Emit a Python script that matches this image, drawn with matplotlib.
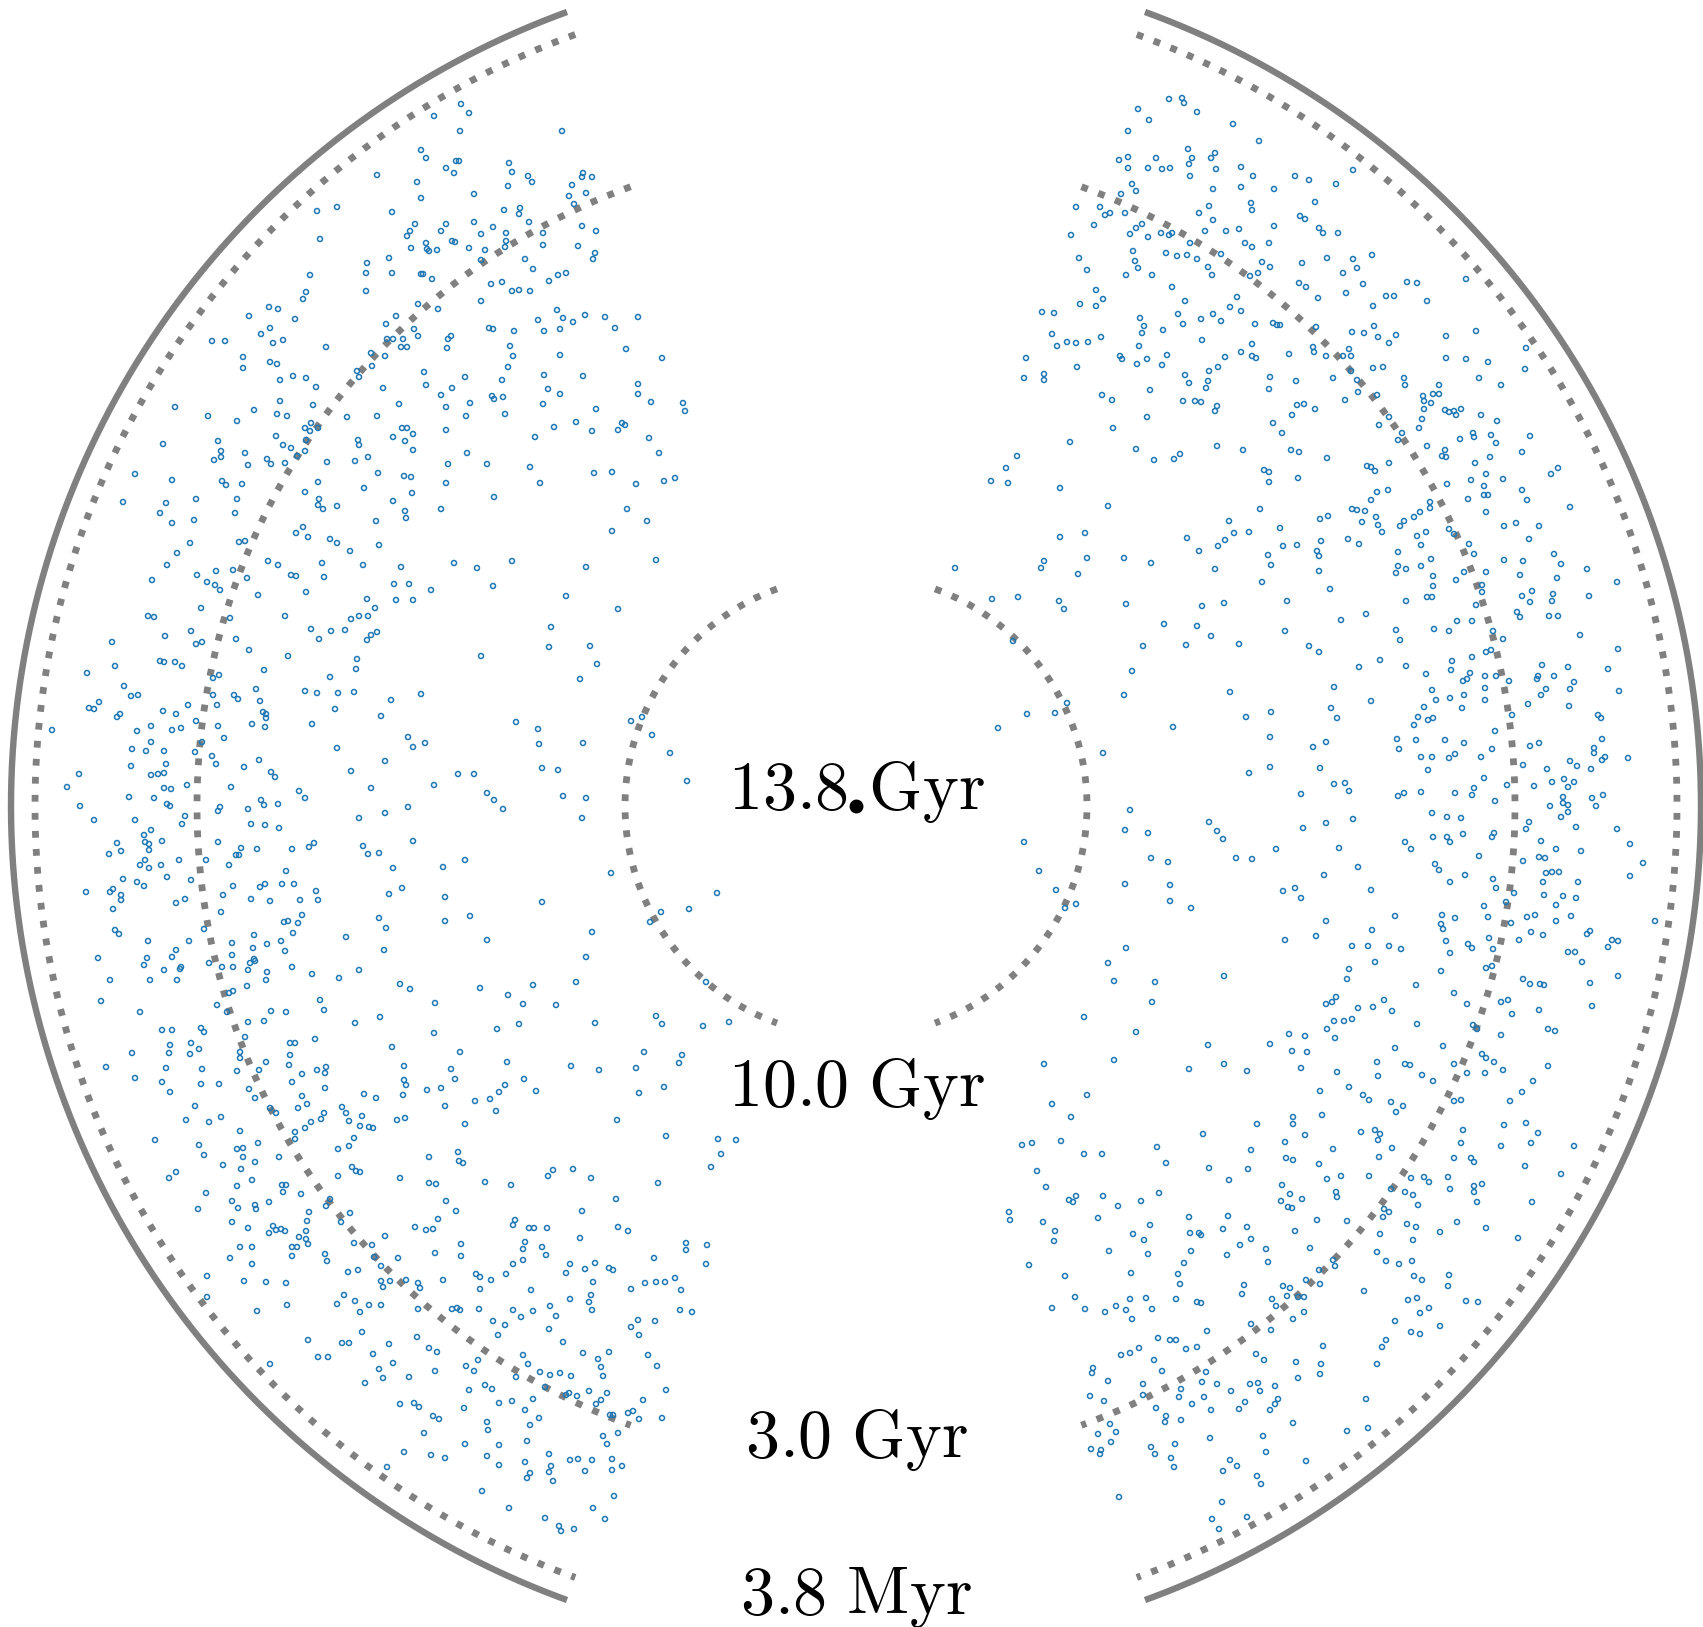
import numpy as np
import matplotlib.pyplot as plt

plt.rcParams['mathtext.fontset'] = 'cm'

# comoving positions of the galaxies, observer at the origin (same units as the radii)
LEFT_GALAXIES = [
    (-479, 631), (-539, 595), (-519, 599), (-536, 567), (-489, 543), (-467, 548), (-490, 533), (-546, 531),
    (-550, 514), (-553, 507), (-490, 515), (-587, 499), (-578, 497), (-607, 490), (-561, 487), (-470, 482),
    (-586, 478), (-595, 472), (-583, 463), (-573, 466), (-469, 467), (-644, 465), (-631, 465), (-530, 459),
    (-485, 453), (-471, 450), (-484, 440), (-613, 449), (-613, 438), (-586, 444), (-579, 442), (-499, 435),
    (-497, 429), (-576, 426), (-563, 430), (-550, 428), (-540, 419), (-473, 418), (-576, 405), (-543, 401),
    (-602, 396), (-579, 392), (-569, 390), (-509, 389), (-479, 390), (-681, 399), (-648, 390), (-619, 385),
    (-545, 383), (-551, 378), (-538, 378), (-546, 375), (-580, 370), (-638, 365), (-635, 355), (-635, 349),
    (-642, 346), (-611, 353), (-608, 341), (-573, 361), (-565, 358), (-550, 366), (-551, 355), (-559, 350),
    (-589, 347), (-585, 342), (-571, 343), (-529, 344), (-498, 366), (-497, 361), (-501, 345), (-488, 349),
    (-693, 362), (-721, 332), (-684, 326), (-634, 325), (-630, 321), (-614, 322), (-538, 324), (-478, 333),
    (-733, 304), (-690, 303), (-696, 293), (-684, 283), (-660, 307), (-662, 286), (-619, 307), (-621, 293),
    (-551, 314), (-537, 307), (-538, 301), (-533, 297), (-519, 300), (-492, 318), (-480, 285), (-560, 273),
    (-553, 279), (-548, 269), (-526, 267), (-519, 263), (-506, 255), (-477, 261), (-666, 263), (-679, 253),
    (-617, 264), (-611, 265), (-689, 241), (-588, 245), (-578, 241), (-534, 243), (-493, 241),
    (-395, 702), (-387, 693), (-422, 690), (-396, 675), (-294, 675), (-435, 656), (-430, 648), (-410, 638),
    (-400, 645), (-397, 645), (-402, 633), (-347, 643), (-344, 634), (-348, 620), (-328, 630), (-324, 624),
    (-273, 633), (-274, 629), (-264, 629), (-284, 621), (-287, 610), (-270, 613), (-282, 602), (-439, 624),
    (-435, 608), (-382, 612), (-352, 596), (-336, 598), (-337, 592), (-327, 584), (-464, 594), (-441, 582),
    (-446, 575), (-449, 570), (-415, 575), (-410, 582), (-382, 584), (-375, 572), (-363, 579), (-350, 573),
    (-350, 565), (-351, 559), (-313, 573), (-313, 561), (-274, 580), (-260, 575), (-278, 560), (-261, 553),
    (-263, 547), (-430, 563), (-429, 557), (-427, 555), (-419, 556), (-445, 558), (-404, 565), (-401, 564),
    (-387, 558), (-371, 556), (-375, 546), (-331, 547), (-323, 537), (-307, 525), (-298, 531), (-290, 533),
    (-435, 532), (-433, 532), (-424, 527), (-365, 522), (-354, 524), (-344, 515), (-337, 516), (-326, 515),
    (-375, 505), (-438, 502), (-418, 497), (-460, 490), (-442, 477), (-438, 470), (-453, 467), (-463, 467),
    (-455, 459), (-449, 459), (-408, 467), (-405, 470), (-409, 458), (-367, 478), (-363, 477), (-342, 475),
    (-299, 496), (-293, 488), (-283, 484), (-271, 491), (-251, 489), (-218, 489), (-241, 478), (-318, 486),
    (-312, 475), (-296, 477), (-346, 460), (-343, 450), (-296, 451), (-230, 457), (-194, 448), (-348, 439),
    (-354, 426), (-312, 431), (-308, 417), (-296, 412), (-273, 430), (-218, 422), (-218, 412), (-205, 404),
    (-173, 403), (-171, 395), (-432, 434), (-430, 421), (-415, 411), (-404, 418), (-391, 429), (-457, 402),
    (-386, 403), (-410, 399), (-390, 390), (-364, 410), (-362, 407), (-353, 409), (-351, 392), (-313, 402),
    (-260, 397), (-280, 384), (-302, 379), (-264, 375), (-238, 376), (-234, 383), (-231, 381), (-207, 368),
    (-197, 353), (-321, 369), (-454, 378), (-449, 378), (-443, 372), (-463, 369), (-451, 365), (-443, 356),
    (-410, 376), (-389, 353), (-408, 342), (-369, 342), (-326, 339), (-316, 323), (-262, 333), (-244, 334),
    (-220, 322), (-192, 325), (-181, 328), (-452, 330), (-445, 329), (-410, 323), (-444, 313), (-463, 305),
    (-451, 295), (-450, 288), (-415, 297), (-362, 309), (-229, 297), (-209, 285), (-244, 275), (-455, 239),
    (-402, 243), (-379, 238), (-344, 245), (-270, 239), (-200, 246), (-464, 533),
    (-659, 231), (-649, 224), (-641, 221), (-636, 216), (-640, 235), (-623, 236), (-609, 228), (-565, 231),
    (-560, 230), (-532, 229), (-704, 226), (-550, 214), (-598, 211), (-489, 207), (-481, 198), (-655, 198),
    (-708, 190), (-702, 189), (-626, 188), (-571, 190), (-505, 187), (-497, 190), (-488, 190), (-545, 177),
    (-525, 175), (-511, 176), (-537, 167), (-485, 171), (-479, 174), (-489, 166), (-665, 175), (-691, 170),
    (-744, 164), (-660, 162), (-654, 164), (-620, 167), (-607, 156), (-568, 150), (-499, 147), (-500, 137),
    (-526, 129), (-592, 136), (-696, 145), (-692, 144), (-681, 144), (-674, 140), (-741, 140), (-769, 133),
    (-732, 120), (-725, 110), (-718, 111), (-637, 131), (-643, 128), (-600, 117), (-551, 115), (-539, 113),
    (-518, 113), (-502, 114), (-622, 111), (-618, 107), (-596, 105), (-643, 111), (-639, 101), (-668, 101),
    (-767, 98), (-762, 97), (-757, 104), (-739, 89), (-736, 92), (-693, 95), (-680, 92), (-521, 97),
    (-475, 90), (-593, 94), (-590, 92), (-590, 88), (-591, 79), (-604, 82), (-544, 82), (-660, 85),
    (-638, 80), (-684, 76), (-675, 78), (-705, 80), (-719, 75), (-804, 76), (-632, 68), (-654, 64),
    (-705, 64), (-724, 57), (-710, 55), (-692, 55), (-661, 54), (-644, 50), (-640, 42), (-519, 58),
    (-597, 46), (-612, 39), (-585, 34), (-581, 29), (-505, 35), (-471, 45), (-777, 32), (-725, 40),
    (-705, 31), (-698, 32), (-692, 33), (-690, 42), (-789, 19), (-669, 21), (-692, 18), (-685, 17),
    (-625, 19), (-485, 18), (-557, 15), (-551, 8), (-727, 9), (-702, 8), (-689, 2), (-686, 0),
    (-776, 0), (-595, 6), (-592, 1), (-578, 2), (-636, -1), (-638, -5), (-608, -3), (-762, -14),
    (-721, -14), (-671, -10), (-674, -18), (-605, -18), (-591, -19), (-577, -22), (-497, -12), (-471, -7),
    (-705, -24), (-712, -29), (-711, -36), (-707, -38), (-707, -44), (-694, -35), (-739, -37), (-747, -48),
    (-735, -45), (-638, -36), (-615, -42), (-620, -49), (-617, -49), (-599, -43), (-564, -43), (-547, -41),
    (-542, -37), (-493, -40), (-488, -48), (-477, -47), (-716, -59), (-711, -54), (-707, -62), (-695, -59),
    (-677, -54), (-650, -54), (-627, -59), (-570, -65), (-733, -73), (-719, -76), (-712, -80), (-689, -71),
    (-665, -74), (-770, -86), (-746, -86), (-743, -83), (-735, -89), (-735, -94), (-743, -103), (-680, -97),
    (-671, -93), (-633, -89), (-623, -80), (-605, -93), (-596, -81), (-591, -78), (-586, -95), (-574, -78),
    (-562, -78), (-556, -94), (-540, -85), (-538, -94), (-467, -88), (-635, -106), (-572, -116), (-568, -115),
    (-558, -117), (-554, -109), (-563, -127), (-602, -129), (-477, -112), (-470, -122), (-741, -124), (-737, -128),
    (-652, -123), (-708, -135), (-667, -135), (-624, -137), (-603, -142), (-589, -138), (-575, -135), (-571, -145),
    (-510, -131), (-472, -144), (-758, -152), (-709, -152), (-712, -159), (-680, -144), (-684, -151), (-675, -161),
    (-676, -163), (-647, -157), (-634, -161), (-624, -149), (-623, -161), (-606, -157), (-602, -153), (-601, -155),
    (-608, -164), (-589, -166), (-590, -174), (-564, -161), (-544, -168), (-517, -172), (-497, -164), (-746, -174),
    (-706, -174), (-692, -164), (-679, -174), (-609, -180), (-627, -187), (-623, -185), (-755, -195), (-716, -206),
    (-639, -199), (-629, -206), (-608, -216), (-592, -215), (-585, -205), (-570, -206), (-536, -194), (-532, -204),
    (-501, -217), (-476, -211), (-694, -224), (-684, -224), (-655, -222), (-652, -226), (-686, -239), (-665, -237),
    (-611, -231), (-566, -237), (-561, -237), (-541, -233), (-657, -243),
    (-462, 222), (-447, 222), (-460, 206), (-443, 206), (-425, 216), (-363, 220), (-290, 210), (-238, 197),
    (-305, 179), (-307, 159), (-266, 160), (-259, 142), (-276, 127), (-375, 150), (-435, 112), (-465, 106),
    (-340, 84), (-318, 77), (-317, 62), (-273, 63), (-225, 85), (-214, 89), (-204, 71), (-186, 53),
    (-169, 25), (-448, 69), (-443, 59), (-431, 63), (-398, 32), (-382, 32), (-422, 21), (-369, 13),
    (-362, 6), (-353, -3), (-314, 38), (-298, 36), (-293, 10), (-270, 8), (-274, -12), (-448, -1),
    (-443, -35), (-463, -62), (-413, -61), (-391, -54), (-454, -82), (-411, -91), (-411, -115), (-386, -110),
    (-369, -134), (-314, -96), (-245, -67), (-264, -126), (-270, -151), (-280, -176), (-139, -87), (-167, -103),
    (-195, -106), (-206, -116), (-456, -178), (-446, -183), (-421, -197), (-376, -182), (-348, -189), (-333, -198),
    (-323, -179), (-300, -199), (-337, -218), (-359, -223), (-422, -227), (-261, -217), (-200, -210), (-194, -218),
    (-153, -220), (-127, -216), (-150, -176), (-464, -241),
    (-724, -247), (-687, -247), (-666, -248), (-616, -246), (-616, -252), (-566, -249), (-567, -259), (-750, -261),
    (-690, -262), (-654, -263), (-619, -265), (-590, -256), (-597, -264), (-721, -272), (-694, -276), (-686, -286),
    (-655, -278), (-637, -278), (-607, -283), (-601, -292), (-564, -276), (-554, -268), (-539, -264), (-531, -267),
    (-530, -261), (-531, -282), (-554, -290), (-549, -298), (-558, -302), (-586, -302), (-580, -307), (-661, -300),
    (-670, -314), (-647, -316), (-635, -311), (-532, -307), (-535, -313), (-545, -316), (-551, -322), (-561, -326),
    (-561, -333), (-514, -301), (-510, -307), (-507, -315), (-494, -310), (-492, -288), (-480, -292), (-496, -320),
    (-487, -321), (-483, -322), (-502, -332), (-507, -340), (-518, -343), (-701, -334), (-657, -339), (-652, -349),
    (-616, -325), (-619, -343), (-613, -342), (-598, -337), (-613, -351), (-601, -356), (-577, -351), (-633, -359),
    (-615, -363), (-604, -374), (-619, -380), (-680, -366), (-687, -372), (-574, -379), (-570, -379), (-573, -386),
    (-555, -388), (-518, -370), (-504, -361), (-500, -365), (-496, -366), (-650, -387), (-658, -403), (-624, -395),
    (-618, -402), (-601, -399), (-600, -403), (-587, -396), (-526, -393), (-530, -400), (-506, -407), (-515, -416),
    (-547, -406), (-549, -415), (-624, -416), (-608, -422), (-583, -420), (-587, -427), (-580, -424), (-575, -423),
    (-571, -425), (-550, -425), (-557, -431), (-550, -433), (-548, -438), (-471, -430), (-502, -437), (-484, -439),
    (-616, -441), (-604, -441), (-564, -441), (-559, -441), (-564, -450), (-626, -452), (-604, -458), (-531, -448),
    (-529, -455), (-482, -451), (-475, -460), (-508, -466), (-498, -464), (-475, -475), (-466, -475), (-473, -481),
    (-649, -470), (-612, -475), (-590, -476), (-570, -477), (-649, -491), (-599, -505), (-569, -499), (-512, -489),
    (-519, -498), (-501, -495), (-496, -506), (-487, -499), (-475, -499), (-494, -526), (-548, -534), (-514, -537),
    (-507, -537), (-467, -538), (-538, -551), (-528, -551), (-483, -548), (-586, -558), (-477, -563), (-473, -572),
    (-491, -577), (-469, -661),
    (-396, -246), (-212, -246), (-174, -249), (-177, -257), (-452, -260), (-405, -263), (-401, -273), (-349, -256),
    (-285, -260), (-257, -264), (-220, -262), (-217, -287), (-192, -281), (-452, -274), (-450, -279), (-453, -289),
    (-429, -284), (-415, -282), (-411, -300), (-381, -295), (-366, -293), (-360, -305), (-357, -286), (-351, -279),
    (-332, -273), (-320, -285), (-391, -318), (-459, -314), (-451, -312), (-239, -314), (-190, -330), (-138, -333),
    (-120, -334), (-135, -348), (-145, -361), (-427, -351), (-398, -346), (-397, -355), (-393, -357), (-456, -372),
    (-427, -377), (-420, -378), (-371, -376), (-345, -379), (-308, -370), (-303, -364), (-283, -363), (-265, -372),
    (-198, -377), (-240, -393), (-410, -395), (-400, -405), (-418, -413), (-274, -405), (-441, -421), (-430, -424),
    (-423, -423), (-343, -419), (-341, -414), (-327, -422), (-322, -422), (-309, -422), (-276, -432), (-238, -421),
    (-228, -425), (-395, -438), (-421, -447), (-395, -450), (-331, -436), (-333, -443), (-333, -454), (-343, -458),
    (-314, -441), (-310, -449), (-458, -452), (-170, -437), (-170, -444), (-149, -439), (-150, -458), (-202, -452),
    (-286, -458), (-290, -467), (-271, -463), (-261, -457), (-247, -462), (-243, -464), (-263, -476), (-380, -468),
    (-376, -471), (-365, -474), (-350, -468), (-450, -474), (-438, -477), (-436, -482), (-413, -474), (-376, -483),
    (-325, -484), (-225, -483), (-211, -477), (-200, -476), (-191, -476), (-181, -472), (-175, -484), (-438, -503),
    (-404, -503), (-399, -502), (-396, -504), (-377, -503), (-343, -504), (-335, -511), (-323, -505), (-306, -500),
    (-300, -510), (-286, -493), (-265, -489), (-267, -496), (-264, -504), (-218, -514), (-225, -521), (-217, -529),
    (-201, -515), (-176, -504), (-164, -506), (-363, -515), (-351, -519), (-358, -529), (-307, -523), (-293, -536),
    (-439, -531), (-427, -542), (-419, -546), (-463, -557), (-378, -554), (-390, -560), (-382, -565), (-333, -549),
    (-328, -558), (-316, -566), (-306, -569), (-296, -567), (-285, -570), (-273, -547), (-247, -546), (-258, -553),
    (-255, -561), (-253, -570), (-208, -549), (-199, -560), (-421, -565), (-447, -571), (-387, -584), (-371, -579),
    (-364, -583), (-340, -571), (-311, -581), (-290, -589), (-287, -587), (-279, -590), (-267, -585), (-249, -587),
    (-255, -594), (-260, -598), (-213, -594), (-190, -584), (-323, -593), (-344, -595), (-357, -597), (-331, -604),
    (-317, -612), (-326, -619), (-456, -598), (-442, -597), (-437, -601), (-392, -602), (-423, -610), (-417, -613),
    (-369, -616), (-368, -624), (-432, -627), (-246, -609), (-243, -609), (-228, -607), (-223, -605), (-217, -613),
    (-194, -612), (-238, -627), (-253, -630), (-249, -638), (-391, -638), (-357, -639), (-329, -635), (-452, -646),
    (-425, -649), (-411, -652), (-369, -650), (-357, -659), (-331, -656), (-307, -648), (-305, -660), (-307, -666),
    (-326, -667), (-329, -672), (-303, -675), (-286, -654), (-278, -653), (-264, -654), (-271, -665), (-244, -653),
    (-244, -664), (-234, -660), (-374, -685), (-347, -702), (-311, -712), (-297, -720), (-295, -725), (-282, -723),
    (-263, -702), (-251, -713), (-242, -690),
]

RIGHT_GALAXIES = [
    (313, 707), (326, 708), (328, 703), (341, 694), (282, 697), (293, 686), (377, 682), (272, 675),
    (403, 665), (332, 657), (359, 653), (355, 648), (336, 648), (333, 642), (334, 630), (360, 637),
    (263, 646), (272, 649), (272, 638), (300, 648), (292, 638), (306, 637), (314, 638), (385, 639),
    (397, 630), (439, 630), (276, 622), (280, 615), (265, 612), (385, 619), (357, 617), (418, 617),
    (395, 603), (396, 596), (353, 600), (343, 593), (357, 586), (220, 599), (244, 599), (249, 591),
    (254, 593), (269, 593), (238, 581), (280, 578), (286, 582), (274, 572), (292, 569), (305, 573),
    (313, 571), (316, 573), (349, 575), (370, 575), (383, 577), (418, 580), (444, 590), (215, 571),
    (389, 563), (396, 559), (413, 563), (334, 563), (277, 555), (279, 545), (282, 538), (270, 531),
    (296, 531), (310, 553), (321, 550), (331, 551), (341, 547), (365, 552), (352, 539), (356, 531),
    (406, 544), (414, 539), (394, 530), (402, 533), (443, 523), (223, 548), (231, 536), (316, 519),
    (329, 505), (240, 516), (247, 507), (240, 500), (224, 502), (186, 494), (198, 493), (381, 509),
    (374, 499), (385, 495), (322, 492), (357, 492), (365, 485), (345, 487), (327, 482), (399, 482),
    (417, 483), (421, 481), (424, 481), (284, 488), (288, 480), (286, 473), (307, 476), (196, 472),
    (201, 460), (211, 464), (220, 463), (232, 464), (245, 469), (283, 460), (346, 466), (396, 462),
    (264, 450), (266, 447), (281, 442), (291, 447), (306, 441), (311, 451), (369, 449), (385, 454),
    (396, 450), (400, 448), (433, 452), (170, 448), (221, 439), (168, 428), (188, 432), (188, 426),
    (329, 431), (333, 423), (353, 435), (362, 439), (352, 425), (350, 418), (414, 429), (413, 417),
    (440, 425), (246, 411), (256, 406), (294, 416), (327, 405), (339, 405), (345, 404), (361, 400),
    (359, 395), (441, 401), (417, 383), (426, 373), (436, 391), (291, 389), (257, 378), (214, 364),
    (280, 357), (298, 346), (318, 347), (324, 352), (361, 360), (387, 356), (435, 356), (443, 354),
    (161, 350), (150, 338), (135, 325), (152, 323), (204, 318), (408, 336), (413, 334), (413, 324),
    (442, 328), (252, 300), (404, 297), (373, 285), (378, 273), (393, 274), (424, 278), (369, 266),
    (362, 260), (427, 260), (441, 261), (331, 268), (343, 255), (204, 269), (229, 273), (412, 251),
    (415, 241), (188, 245), (185, 238), (231, 248), (268, 248), (295, 243), (359, 237), (99, 238),
    (497, 636), (453, 626), (480, 622), (459, 604), (449, 587), (463, 578), (467, 573), (482, 573),
    (446, 543), (471, 548), (497, 547), (516, 551), (501, 538), (487, 533), (507, 522), (450, 519),
    (462, 508), (490, 513), (517, 500), (530, 510), (538, 510), (551, 524), (561, 523), (571, 505),
    (610, 527), (460, 479), (496, 474), (508, 473), (518, 480), (522, 469), (533, 463), (540, 471),
    (457, 459), (458, 454), (470, 450), (487, 450), (493, 457), (495, 450), (590, 470), (620, 475),
    (670, 458), (669, 437), (477, 428), (495, 435), (501, 426), (502, 414), (517, 438), (527, 439),
    (548, 428), (549, 421), (521, 411), (489, 406), (448, 402), (459, 397), (590, 448), (610, 447),
    (632, 444), (623, 428), (645, 421), (583, 421), (577, 412), (583, 412), (567, 410), (568, 405),
    (575, 403), (568, 397), (566, 387), (563, 378), (589, 396), (593, 394), (600, 391), (598, 395),
    (605, 397), (625, 391), (641, 385), (533, 389), (523, 381), (546, 373), (542, 366), (571, 360),
    (589, 356), (586, 350), (590, 349), (604, 367), (617, 373), (618, 369), (635, 371), (640, 363),
    (674, 370), (666, 354), (471, 348), (511, 340), (515, 339), (519, 335), (533, 343), (619, 343),
    (634, 349), (630, 332), (615, 326), (628, 320), (628, 311), (632, 311), (591, 322), (612, 307),
    (647, 327), (666, 316), (671, 306), (695, 332), (702, 338), (714, 299), (532, 316), (521, 314),
    (515, 306), (464, 287), (472, 290), (496, 297), (501, 296), (509, 295), (506, 284), (520, 289),
    (522, 281), (526, 274), (548, 285), (544, 280), (558, 289), (564, 294), (574, 304), (574, 298),
    (593, 277), (598, 272), (561, 270), (570, 274), (565, 261), (613, 262), (618, 252), (648, 280),
    (660, 283), (683, 280), (673, 267), (630, 294), (492, 267), (503, 262), (465, 265), (461, 255),
    (463, 250), (542, 254), (575, 247), (565, 240), (542, 240), (550, 237), (648, 246), (667, 245),
    (698, 252), (705, 242), (731, 237),
    (222, 232), (406, 224), (136, 207), (162, 209), (203, 205), (208, 197), (270, 202), (346, 200),
    (368, 203), (431, 205), (308, 182), (341, 180), (355, 170), (287, 160), (330, 161), (383, 162),
    (429, 175), (157, 165), (276, 135), (268, 111), (374, 114), (211, 103), (171, 92), (199, 93),
    (142, 78), (390, 89), (415, 94), (317, 79), (414, 69), (247, 53), (393, 33), (414, 39),
    (274, -4), (269, -24), (292, -27), (353, -16), (361, -25), (367, -33), (168, -36), (183, -65),
    (295, -52), (312, -56), (380, -52), (396, -53), (420, -43), (269, -78), (314, -79), (314, -95),
    (335, -102), (200, -84), (220, -98), (209, -102), (427, -85), (439, -82), (429, -134), (270, -142),
    (252, -157), (258, -175), (299, -176), (296, -196), (368, -170), (228, -211), (280, -226), (352, -239),
    (414, -238), (433, -228),
    (463, 235), (540, 233), (577, 230), (608, 234), (630, 234), (664, 231), (701, 228), (600, 226),
    (577, 220), (626, 221), (626, 214), (474, 217), (550, 205), (571, 209), (576, 209), (666, 210),
    (676, 215), (674, 204), (697, 212), (696, 205), (733, 210), (761, 224), (620, 201), (661, 194),
    (664, 189), (693, 190), (702, 190), (485, 186), (510, 192), (540, 176), (544, 166), (578, 177),
    (593, 175), (601, 185), (616, 185), (637, 175), (647, 167), (724, 171), (453, 160), (463, 154),
    (524, 146), (503, 139), (550, 140), (596, 145), (595, 136), (616, 149), (630, 154), (635, 156),
    (762, 157), (570, 132), (614, 133), (611, 127), (607, 125), (629, 130), (640, 130), (653, 125),
    (686, 141), (682, 130), (681, 127), (698, 130), (712, 139), (718, 124), (714, 117), (690, 117),
    (685, 111), (752, 137), (763, 115), (478, 119), (515, 105), (576, 116), (580, 106), (594, 108),
    (608, 111), (629, 118), (629, 106), (606, 98), (656, 91), (672, 102), (713, 100), (475, 98),
    (481, 88), (568, 99), (562, 89), (572, 86), (577, 88), (558, 81), (742, 91), (745, 88),
    (639, 75), (457, 59), (470, 64), (541, 67), (543, 57), (560, 66), (589, 66), (608, 63),
    (636, 57), (565, 49), (576, 49), (593, 48), (599, 52), (625, 49), (674, 60), (683, 63),
    (746, 67), (738, 58), (738, 53), (746, 46), (749, 49), (772, 48), (714, 45), (721, 40),
    (735, 37), (667, 41), (691, 37), (464, 38), (572, 36), (628, 28), (651, 21), (678, 20),
    (696, 24), (708, 27), (718, 24), (712, 19), (478, 22), (489, 23), (493, 15), (445, 12),
    (542, 10), (548, 13), (565, 14), (599, 13), (616, 11), (618, 18), (639, 5), (707, 9),
    (707, 3), (712, 1), (712, -6), (705, -11), (694, 0), (736, 8), (740, 0), (747, 11),
    (470, -17), (447, -22), (497, -13), (576, -7), (591, -11), (605, -12), (607, -28), (636, -31),
    (638, -27), (577, -31), (591, -31), (594, -36), (549, -36), (555, -43), (483, -42), (623, -50),
    (673, -16), (670, -23), (685, -35), (700, -43), (720, -21), (725, -45), (683, -51), (689, -52),
    (667, -55), (761, -23), (774, -38), (787, -57), (774, -70), (502, -61), (468, -69), (579, -58),
    (583, -64), (609, -69), (594, -76), (637, -73), (640, -82), (690, -67), (696, -66), (703, -66),
    (687, -76), (722, -76), (515, -84), (445, -92), (628, -100), (650, -96), (658, -87), (688, -89),
    (707, -90), (700, -99), (720, -92), (470, -115), (539, -110), (586, -109), (599, -112), (585, -118),
    (587, -123), (632, -111), (655, -117), (671, -111), (679, -109), (700, -115), (715, -110), (799, -115),
    (516, -124), (460, -130), (496, -140), (512, -140), (533, -140), (545, -143), (590, -135), (612, -138),
    (616, -142), (633, -132), (637, -143), (663, -134), (675, -126), (687, -129), (731, -128), (734, -125),
    (752, -141), (756, -134), (762, -135), (712, -146), (719, -146), (726, -156), (594, -147), (519, -156),
    (493, -163), (491, -173), (585, -165), (630, -162), (636, -160), (667, -173), (674, -178), (684, -178),
    (688, -179), (734, -177), (762, -170), (560, -179), (598, -187), (611, -198), (645, -196), (652, -194),
    (656, -208), (683, -204), (736, -200), (480, -191), (476, -196), (470, -198), (502, -202), (517, -201),
    (528, -194), (536, -205), (478, -215), (488, -215), (496, -213), (471, -223), (479, -232), (449, -230),
    (561, -218), (617, -219), (621, -223), (645, -229), (692, -223), (699, -225), (539, -242), (587, -240),
    (188, -258), (258, -254), (333, -263), (368, -258), (391, -265), (436, -245), (231, -289), (196, -298),
    (215, -311), (166, -339), (176, -337), (205, -335), (228, -348), (246, -348), (181, -365), (190, -381),
    (301, -341), (310, -357), (347, -328), (401, -318), (395, -344), (353, -362), (392, -363), (373, -374),
    (437, -311), (437, -318), (429, -336), (430, -352), (437, -354), (426, -379), (434, -388), (425, -395),
    (432, -401), (436, -402), (439, -425), (213, -394), (217, -396), (220, -390), (247, -390), (262, -400),
    (285, -395), (303, -387), (153, -406), (154, -414), (187, -416), (199, -425), (198, -435), (242, -412),
    (277, -428), (288, -434), (294, -419), (253, -445), (292, -448), (333, -411), (334, -427), (343, -427),
    (345, -429), (335, -445), (372, -410), (367, -423), (391, -421), (395, -433), (384, -439), (371, -449),
    (410, -443), (412, -456), (328, -457), (322, -468), (324, -478), (275, -467), (173, -459), (209, -470),
    (219, -491), (196, -502), (229, -503), (249, -506), (260, -500), (270, -504), (274, -493), (276, -513),
    (290, -492), (296, -503), (320, -493), (341, -496), (345, -497), (388, -479), (386, -488), (427, -480),
    (434, -482), (416, -493), (420, -500), (431, -490), (442, -491), (437, -513), (395, -518), (415, -524),
    (351, -525), (302, -532), (314, -534), (320, -534), (330, -543), (341, -541), (265, -549), (274, -547),
    (283, -542), (298, -554), (306, -565), (237, -562), (236, -567), (252, -575), (234, -590), (248, -595),
    (287, -578), (287, -589), (300, -602), (310, -610), (309, -616), (325, -614), (323, -591), (325, -583),
    (336, -598), (346, -576), (348, -591), (355, -604), (350, -566), (361, -578), (375, -585), (389, -596),
    (383, -603), (394, -578), (402, -577), (404, -585), (419, -580), (422, -593), (419, -598), (414, -604),
    (400, -548), (408, -554), (440, -556), (442, -572), (437, -617), (254, -618), (242, -628), (260, -626),
    (255, -636), (235, -643), (245, -644), (244, -648), (295, -641), (299, -648), (319, -638), (315, -652),
    (318, -661), (354, -632), (407, -630), (410, -646), (374, -654), (381, -660), (367, -665), (401, -670),
    (405, -678), (263, -691), (366, -696), (356, -713), (363, -723), (391, -711),
    (451, -246), (626, -248), (630, -252), (638, -256), (647, -264), (598, -258), (611, -267), (629, -267),
    (549, -258), (554, -259), (521, -256), (522, -270), (566, -269), (577, -275), (481, -266), (445, -262),
    (692, -260), (677, -275), (666, -286), (654, -295), (598, -295), (605, -294), (464, -285), (493, -281),
    (507, -289), (513, -294), (535, -296), (547, -300), (540, -306), (466, -309), (449, -329), (505, -326),
    (519, -324), (524, -328), (522, -334), (536, -342), (477, -343), (607, -324), (605, -337), (648, -319),
    (670, -317), (682, -327), (645, -340), (675, -337), (718, -340), (598, -352), (615, -352), (618, -356),
    (669, -360), (705, -368), (523, -351), (463, -358), (471, -373), (485, -370), (513, -370), (555, -372),
    (568, -371), (573, -376), (592, -371), (594, -383), (618, -380), (626, -378), (618, -386), (621, -396),
    (446, -393), (480, -386), (481, -391), (535, -383), (549, -386), (557, -389), (562, -399), (676, -396),
    (528, -403), (533, -406), (527, -411), (461, -414), (491, -415), (551, -418), (560, -421), (601, -416),
    (584, -426), (630, -422), (662, -432), (524, -428), (557, -434), (454, -442), (521, -446), (530, -455),
    (543, -458), (556, -455), (477, -454), (479, -460), (463, -464), (450, -474), (464, -478), (448, -491),
    (448, -506), (508, -485), (558, -470), (566, -474), (593, -469), (592, -480), (552, -494), (561, -492),
    (573, -502), (610, -495), (622, -496), (539, -515), (564, -507), (555, -526), (564, -528), (584, -520),
    (467, -540), (530, -534), (526, -541), (465, -558), (464, -568), (521, -558), (510, -593), (491, -625),
    (512, -622), (450, -655),
]

HORIZON_R = 845
SHELL_R = [231, 659, 821]
SHELL_LABELS = ['10.0 Gyr', '3.0 Gyr', '3.8 Myr']
SHELL_LABEL_Y = [-300, -651, -808]
CENTER_LABEL = '13.8 Gyr'
CONE = 20  # half opening of the empty cones above and below, degrees

GREY = '#808080'


def draw_shell(ax, r, **kw):
    # two arcs, left and right, leaving the polar cones empty
    for a0, a1 in [(90 + CONE, 270 - CONE), (90 - CONE, -90 + CONE)]:
        t = np.radians(np.linspace(a0, a1, 600))
        ax.plot(r * np.cos(t), r * np.sin(t), **kw)


fig = plt.figure(figsize=(17.03, 16.27), dpi=100)
ax = fig.add_axes([0, 0, 1, 1])
ax.set_xlim(-856, 847)
ax.set_ylim(-821, 806)
ax.axis('off')

draw_shell(ax, HORIZON_R, color=GREY, lw=4.6, solid_capstyle='butt')
for r in SHELL_R:
    draw_shell(ax, r, color=GREY, lw=4.9, ls=':')

for gals in (LEFT_GALAXIES, RIGHT_GALAXIES):
    xy = np.array(gals)
    ax.scatter(xy[:, 0], xy[:, 1], s=13, facecolors='none',
               edgecolors='#1f77b4', linewidths=1.1, zorder=3)

ax.plot(0, 0, 'o', color='black', ms=9, zorder=5)
ax.text(0, -3, r'$\mathrm{%s}$' % CENTER_LABEL.replace(' ', r'\ '),
        ha='center', va='baseline', fontsize=49, zorder=4)
for lab, y in zip(SHELL_LABELS, SHELL_LABEL_Y):
    ax.text(0, y, r'$\mathrm{%s}$' % lab.replace(' ', r'\ '),
            ha='center', va='baseline', fontsize=49)

fig.savefig('out.png', dpi=100)
